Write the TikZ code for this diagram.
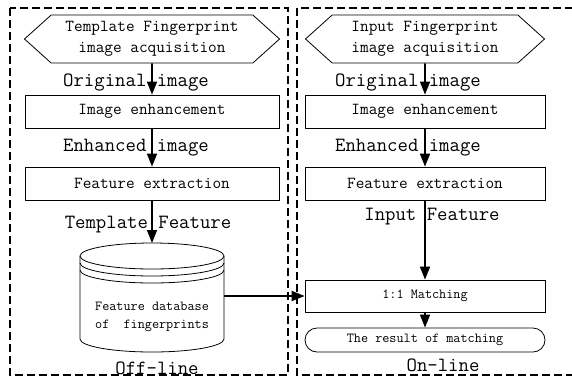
\documentclass[tikz,border=0pt]{standalone}
\usepackage{fontspec}
\usetikzlibrary{arrows.meta,shapes.symbols,shapes.misc}

\begin{document}
\begin{tikzpicture}[x=1bp,y=-1bp,
  box/.style={draw, line width=0.8bp, minimum height=33bp, inner sep=0pt,
    font=\ttfamily\fontsize{16.8bp}{20bp}\selectfont},
  hexa/.style={draw, signal, signal to=east and west, signal pointer angle=84,
    line width=0.8bp, minimum height=48bp, inner sep=0pt, align=center,
    font=\ttfamily\fontsize{16.8bp}{21bp}\selectfont},
  lbl/.style={inner sep=0pt, font=\ttfamily\fontsize{20.2bp}{24bp}\selectfont},
  small/.style={inner sep=0pt, align=center,
    font=\ttfamily\fontsize{13.8bp}{18bp}\selectfont},
  arr/.style={-{Triangle[length=13bp,width=10bp]}, line width=1.6bp},
  frame/.style={dash pattern=on 8bp off 4bp, line width=1.4bp}]
\useasboundingbox (0,0) rectangle (572,378);

% off-line and on-line frames
\draw[frame] (10,8) rectangle (288,375);
\draw[frame] (297,8) rectangle (578,375);

% off-line side
\node[hexa, minimum width=255bp] (tacq) at (152,39) {Template Fingerprint\\image acquisition};
\node[box, minimum width=254bp] (tenh) at (152,111.5) {Image enhancement};
\node[box, minimum width=254bp] (tfeat) at (152,183.5) {Feature extraction};
\node[small, minimum width=144bp] (db) at (152,317) {Feature database\\of\ \ fingerprints};

\node[lbl] (torig) at (136,82.5) {Original image};
\node[lbl] (tenhd) at (136,147.5) {Enhanced image};
\node[lbl] (ttpl) at (148,224.5) {Template Feature};
\node[lbl] (off) at (157,368) {Off-line};

% database cylinder
\draw[line width=0.8bp] (152,256) ellipse [x radius=72, y radius=13];
\draw[line width=0.8bp] (224,263) arc [start angle=0, end angle=180, x radius=72, y radius=13];
\draw[line width=0.8bp] (224,270) arc [start angle=0, end angle=180, x radius=72, y radius=13];
\draw[line width=0.8bp] (80,256) -- (80,339) arc [start angle=180, end angle=0, x radius=72, y radius=13] -- (224,256);

% on-line side
\node[hexa, minimum width=239bp] (iacq) at (425,39) {Input Fingerprint\\image acquisition};
\node[box, minimum width=240bp] (ienh) at (425,111.5) {Image enhancement};
\node[box, minimum width=240bp] (ifeat) at (425,183.5) {Feature extraction};
\node[box, minimum width=240bp, minimum height=32bp, font=\ttfamily\fontsize{13.8bp}{16bp}\selectfont] (match) at (425,296) {1:1 Matching};
\node[draw, rounded rectangle, line width=0.8bp, minimum width=240bp, minimum height=24bp, inner sep=0pt,
  font=\ttfamily\fontsize{13.8bp}{16bp}\selectfont] (res) at (425,340) {The result of matching};

\node[lbl] (iorig) at (408,82.5) {Original image};
\node[lbl] (ienhd) at (408,147.5) {Enhanced image};
\node[lbl] (iinp) at (432,216.5) {Input Feature};
\node[lbl] (on) at (443,365.5) {On-line};

% arrows
\draw[arr] (tacq) -- (tenh);
\draw[arr] (tenh) -- (tfeat);
\draw[arr] (tfeat.south) -- (152,243);
\draw[arr] (iacq) -- (ienh);
\draw[arr] (ienh) -- (ifeat);
\draw[arr] (ifeat) -- (match);
\draw[arr] (match) -- (res);
\draw[arr] (224,296) -- (match.west);
\end{tikzpicture}
\end{document}
